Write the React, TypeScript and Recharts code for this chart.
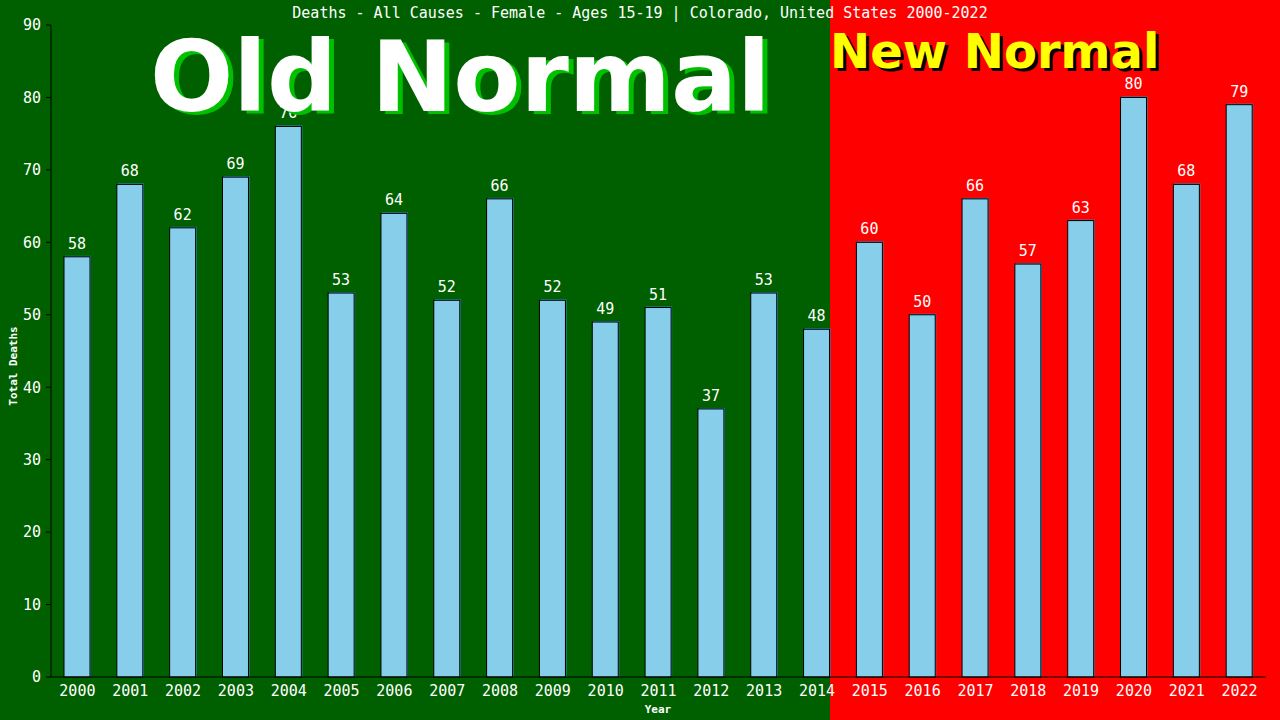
import React from "react";
import { BarChart, Bar, XAxis, YAxis, LabelList } from "recharts";

const years = [
  "2000", "2001", "2002", "2003", "2004", "2005", "2006", "2007", "2008", "2009", "2010", "2011",
  "2012", "2013", "2014", "2015", "2016", "2017", "2018", "2019", "2020", "2021", "2022",
];
const deaths = [58, 68, 62, 69, 76, 53, 64, 52, 66, 52, 49, 51, 37, 53, 48, 60, 50, 66, 57, 63, 80, 68, 79];
const yTicks = [0, 10, 20, 30, 40, 50, 60, 70, 80, 90];

const title = "Deaths - All Causes - Female - Ages 15-19 | Colorado, United States 2000-2022";

const data = years.map((year, i) => ({ year, deaths: deaths[i] }));

const mono = "'DejaVu Sans Mono', monospace";
const bold = "'DejaVu Sans', sans-serif";

const BarShape = (props: any) => {
  const { x, y, width, height } = props;
  return (
    <g>
      <rect x={x + 1} y={y - 1} width={width} height={height + 1} fill="#3c8fc4" />
      <rect x={x} y={y} width={width} height={height} fill="#87ceeb" stroke="#000" strokeWidth={1} />
    </g>
  );
};

export default function App() {
  return (
    <div style={{ position: "fixed", left: 0, top: 0, width: 1280, height: 720, overflow: "hidden" }}>
      <div style={{ position: "absolute", left: 0, top: 0, width: 830, height: 720, background: "#006000" }} />
      <div style={{ position: "absolute", left: 830, top: 0, width: 450, height: 720, background: "#ff0000" }} />
      <div style={{ position: "absolute", left: 0, top: 0 }}>
        <BarChart
          width={1280}
          height={720}
          data={data}
          margin={{ top: 25, right: 14, bottom: 0, left: 0 }}
          barSize={26}
        >
          <XAxis
            dataKey="year"
            height={43}
            tickLine={false}
            stroke="#000"
            tick={{ fill: "#fff", fontFamily: mono, fontSize: 15 }}
          />
          <YAxis
            width={51}
            domain={[0, 90]}
            ticks={yTicks}
            interval={0}
            tickSize={5}
            tickMargin={5}
            stroke="#000"
            tick={{ fill: "#fff", fontFamily: mono, fontSize: 15 }}
          />
          <YAxis yAxisId="right" orientation="right" width={0} tick={false} tickLine={false} stroke="#000" />
          <Bar dataKey="deaths" shape={BarShape} isAnimationActive={false}>
            <LabelList
              dataKey="deaths"
              position="top"
              offset={8}
              fill="#fff"
              style={{ fontFamily: mono, fontSize: 15 }}
            />
          </Bar>
        </BarChart>
      </div>
      <svg width={1280} height={720} style={{ position: "absolute", left: 0, top: 0, pointerEvents: "none" }}>
        <text x={640} y={18} textAnchor="middle" fill="#fff" fontFamily={mono} fontSize={15}>
          {title}
        </text>
        <text x={155} y={114} fill="#00c000" fontFamily={bold} fontWeight="bold" fontSize={98}>
          Old Normal
        </text>
        <text x={150} y={111} fill="#fff" fontFamily={bold} fontWeight="bold" fontSize={98}>
          Old Normal
        </text>
        <text x={833} y={71} fill="#000" fontFamily={bold} fontWeight="bold" fontSize={48}>
          New Normal
        </text>
        <text x={830} y={68} fill="#ffff00" fontFamily={bold} fontWeight="bold" fontSize={48}>
          New Normal
        </text>
        <text x={658} y={713} textAnchor="middle" fill="#fff" fontFamily={mono} fontWeight="bold" fontSize={11}>
          Year
        </text>
        <text
          x={17}
          y={366}
          textAnchor="middle"
          transform="rotate(-90 17 366)"
          fill="#fff"
          fontFamily={mono}
          fontWeight="bold"
          fontSize={11}
        >
          Total Deaths
        </text>
      </svg>
    </div>
  );
}
